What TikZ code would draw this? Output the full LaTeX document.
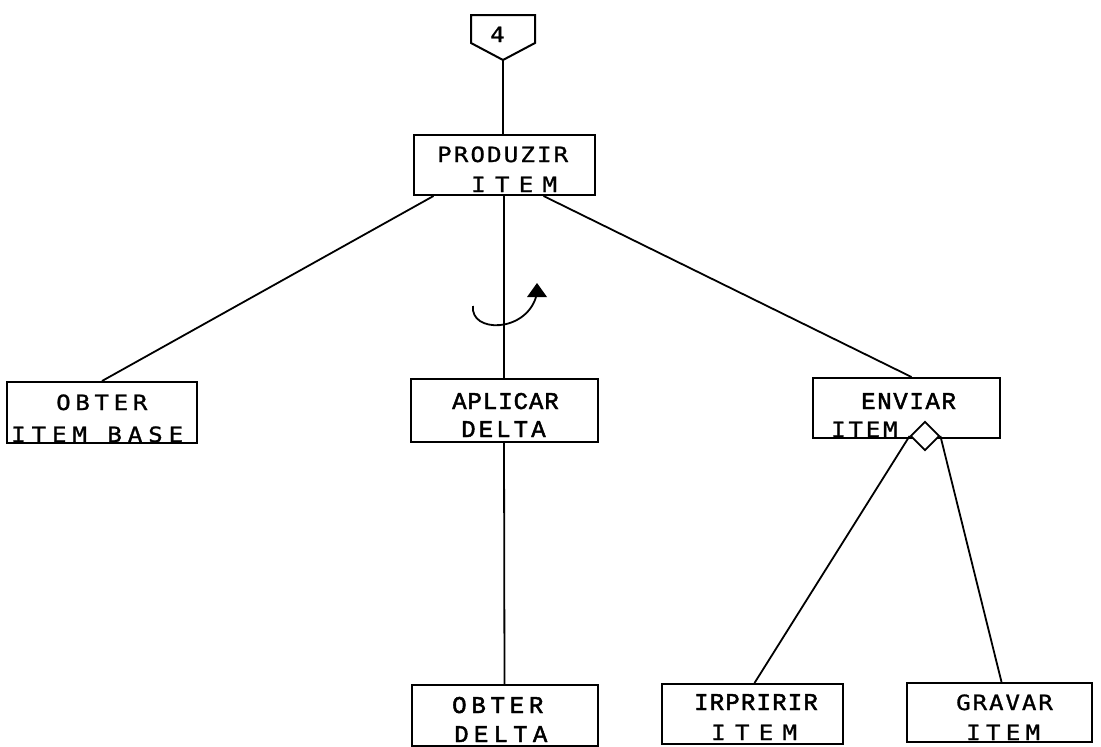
\documentclass[tikz,border=0pt]{standalone}
\usepackage{fontspec}
\usetikzlibrary{shapes.geometric,calc}
\newfontfamily\plotsans[FakeStretch=1.15,FakeBold=1.2]{DejaVu Sans Mono}
\newfontfamily\plotmono[FakeBold=2]{Liberation Mono}
% letter-spaced text: #1 = tracking in percent of the font size
\newcommand\tracked[2]{{\addfontfeature{LetterSpace=#1}#2}}

\tikzset{
  box/.style={draw, line width=2pt, inner sep=0pt},
  wire/.style={line width=1.8pt},
  sanslbl/.style={anchor=base west, inner sep=0pt, font=\plotsans\fontsize{21}{21}\selectfont},
  monolbl/.style={anchor=base west, inner sep=0pt, font=\plotmono\fontsize{24}{24}\selectfont},
}

\begin{document}
\begin{tikzpicture}[x=1pt, y=-1pt]
\useasboundingbox (0,0) rectangle (1101,747);

% off-page connector
\draw[box] (471,15) -- (535,15) -- (535,43) -- (503,60) -- (471,43) -- cycle;
\coordinate (ptip) at (503,60);
\node[sanslbl] (four) at (490,42) {4};

% module boxes
\node[box, minimum width=181pt, minimum height=60pt] (prod)   at (504,165)   {};
\node[box, minimum width=190pt, minimum height=61pt] (obase)  at (102,412.5) {};
\node[box, minimum width=187pt, minimum height=63pt] (aplic)  at (504,410.5) {};
\node[box, minimum width=187pt, minimum height=60pt] (envia)  at (906.5,408) {};
\node[box, minimum width=186pt, minimum height=61pt] (odelta) at (504.5,715.5) {};
\node[box, minimum width=181pt, minimum height=60pt] (irpr)   at (752.5,714) {};
\node[box, minimum width=185pt, minimum height=59pt] (grav)   at (999.5,712.5) {};

% labels
\node[sanslbl] (prodA) at (437,162) {\tracked{10}{PRODUZIR}};
\node[sanslbl] (prodB) at (471,192) {\tracked{44}{ITEM}};
\node[sanslbl] (obaseA) at (56,410) {\tracked{22}{OBTER}};
\node[sanslbl] (obaseB) at (11,442) {\tracked{28}{ITEM BASE}};
\node[monolbl] (aplicA) at (452,409) {\tracked{4}{APLICAR}};
\node[monolbl] (aplicB) at (461,437) {\tracked{13}{DELTA}};
\node[monolbl] (enviaA) at (861,409) {\tracked{7}{ENVIAR}};
\node[sanslbl] (enviaB) at (831,437) {\tracked{13}{ITEM}};
\node[monolbl] (odeltaA) at (452,713) {\tracked{20}{OBTER}};
\node[monolbl] (odeltaB) at (454,742) {\tracked{22}{DELTA}};
\node[monolbl] (irprA) at (694,710) {\tracked{5}{IRPRIRIR}};
\node[sanslbl] (irprB) at (711,740) {\tracked{44}{ITEM}};
\node[sanslbl] (gravA) at (956,710) {\tracked{9}{GRAVAR}};
\node[sanslbl] (gravB) at (966,740) {\tracked{25}{ITEM}};

% selection diamond under ENVIAR ITEM
\node[draw, shape=diamond, line width=1.8pt, fill=white, inner sep=0pt,
      minimum width=29pt, minimum height=29pt] (sel) at (925,436) {};

% connectors
\draw[wire] (ptip) -- (ptip |- prod.north);
\draw[wire] ($(prod.south west)+(21,0)$) -- (obase.north);
\draw[wire] (prod.south) -- (aplic.north);
\draw[wire] ($(prod.south west)+(131,0)$) -- ($(envia.north)+(5,0)$);
\draw[wire] (aplic.south) -- (odelta.north);
\draw[wire] (sel.west) -- ($(irpr.north)+(2,0)$);
\draw[wire] (sel.east) -- ($(grav.north)+(2,0)$);

% iteration arrow
\draw[wire] (473,306) .. controls (470,333) and (525,333) .. (536,297);
\fill (537,283) -- (547,297) -- (527,297) -- cycle;
\end{tikzpicture}
\end{document}
